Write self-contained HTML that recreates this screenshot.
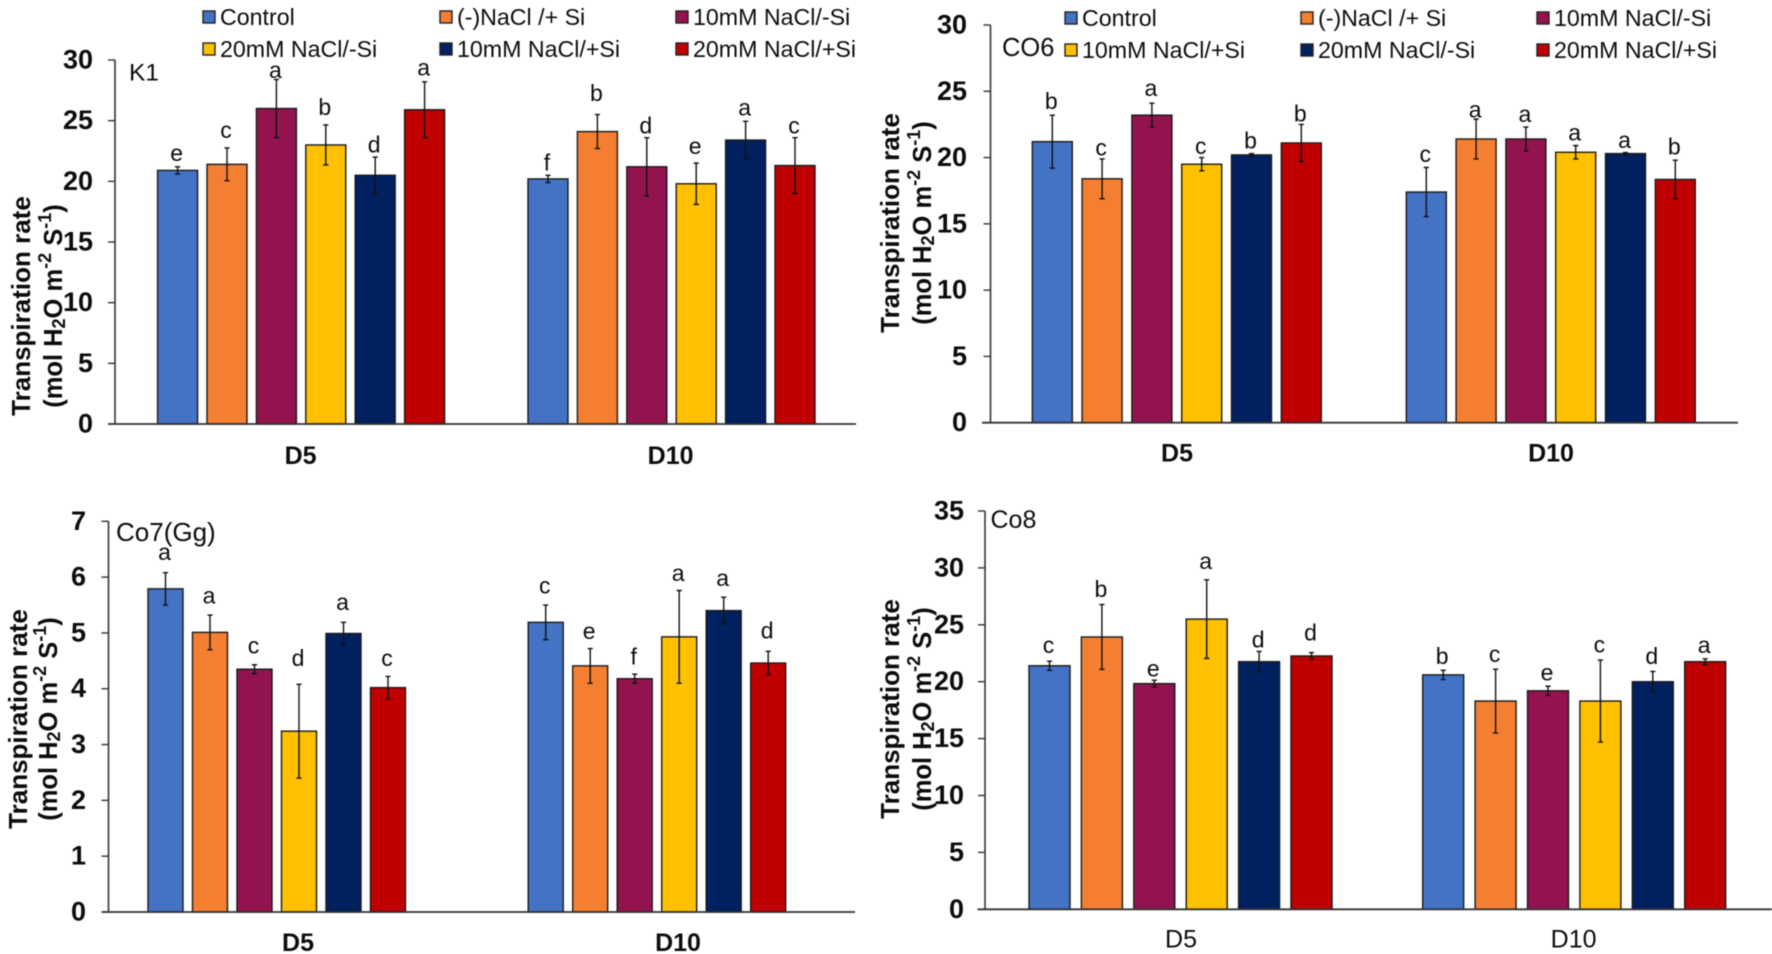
<!DOCTYPE html>
<html lang="en">
<head>
<meta charset="utf-8">
<title>Transpiration rate under NaCl and Si treatments</title>
<style>
html,body{margin:0;padding:0;background:#fff;width:1772px;height:954px;overflow:hidden}
svg{display:block;font-family:"Liberation Sans",Arial,sans-serif;filter:blur(0.4px)}
</style>
</head>
<body>
<svg id="figure" xmlns="http://www.w3.org/2000/svg" width="1772" height="954" viewBox="0 0 1772 954"></svg>
<script>
// Shared categories and colours
const categories = ['D5', 'D10'];
const seriesColors = ['#4472C4', '#F47F30', '#93134F', '#FFC000', '#002060', '#C00000'];

// K1
const k1Ticks = [0, 5, 10, 15, 20, 25, 30];
const k1D5 = [20.9, 21.4, 26.0, 23.0, 20.5, 25.9];
const k1D10 = [20.2, 24.1, 21.2, 19.8, 23.4, 21.3];
const k1D5Err = [0.3, 1.35, 2.4, 1.65, 1.5, 2.3];
const k1D10Err = [0.3, 1.4, 2.4, 1.7, 1.55, 2.3];
const k1D5Letters = ['e', 'c', 'a', 'b', 'd', 'a'];
const k1D10Letters = ['f', 'b', 'd', 'e', 'a', 'c'];
const k1D5Lift = [1.04, 1.4, 0.69, 1.4, 0.96, 1.1];
const k1D10Lift = [0.96, 1.7, 0.93, 1.32, 1.04, 0.93];
const k1Legend = ['Control', '(-)NaCl /+ Si', '10mM NaCl/-Si', '20mM NaCl/-Si', '10mM NaCl/+Si', '20mM NaCl/+Si'];

// CO6
const co6Ticks = [0, 5, 10, 15, 20, 25, 30];
const co6D5 = [21.2, 18.4, 23.2, 19.5, 20.2, 21.1];
const co6D10 = [17.4, 21.4, 21.4, 20.4, 20.3, 18.35];
const co6D5Err = [2.0, 1.5, 0.9, 0.5, 0.1, 1.4];
const co6D10Err = [1.85, 1.5, 0.9, 0.5, 0.08, 1.45];
const co6D5Letters = ['b', 'c', 'a', 'c', 'b', 'b'];
const co6D10Letters = ['c', 'a', 'a', 'a', 'a', 'b'];
const co6D5Lift = [1.0, 0.8, 1.08, 0.8, 0.9, 0.75];
const co6D10Lift = [0.96, 0.65, 0.9, 0.93, 0.88, 0.96];
const co6Legend = ['Control', '(-)NaCl /+ Si', '10mM NaCl/-Si', '10mM NaCl/+Si', '20mM NaCl/-Si', '20mM NaCl/+Si'];

// Co7(Gg)
const co7Ticks = [0, 1, 2, 3, 4, 5, 6, 7];
const co7D5 = [5.79, 5.01, 4.35, 3.24, 4.99, 4.02];
const co7D10 = [5.19, 4.41, 4.18, 4.93, 5.4, 4.46];
const co7D5Err = [0.29, 0.31, 0.08, 0.84, 0.2, 0.2];
const co7D10Err = [0.31, 0.31, 0.08, 0.83, 0.24, 0.21];
const co7D5Letters = ['a', 'a', 'c', 'd', 'a', 'c'];
const co7D10Letters = ['c', 'e', 'f', 'a', 'a', 'd'];
const co7D5Lift = [0.35, 0.33, 0.33, 0.45, 0.35, 0.31];
const co7D10Lift = [0.33, 0.3, 0.3, 0.3, 0.33, 0.36];

// Co8
const co8Ticks = [0, 5, 10, 15, 20, 25, 30, 35];
const co8D5 = [21.4, 23.93, 19.83, 25.5, 21.76, 22.26];
const co8D10 = [20.6, 18.3, 19.2, 18.3, 20.0, 21.76];
const co8D5Err = [0.4, 2.85, 0.3, 3.45, 0.9, 0.3];
const co8D10Err = [0.4, 2.8, 0.4, 3.6, 0.9, 0.25];
const co8D5Letters = ['c', 'b', 'e', 'a', 'd', 'd'];
const co8D10Letters = ['b', 'c', 'e', 'c', 'd', 'a'];
const co8D5Lift = [1.35, 1.26, 0.94, 1.58, 0.97, 1.67];
const co8D10Lift = [1.17, 1.26, 1.11, 1.26, 1.29, 1.11];

const SVG_NS = 'http://www.w3.org/2000/svg';
const figure = document.getElementById('figure');

function make(tag, attrs, parent) {
  const node = document.createElementNS(SVG_NS, tag);
  for (const key in attrs) node.setAttribute(key, attrs[key]);
  parent.appendChild(node);
  return node;
}

function drawPanel(p) {
  const group = make('g', {}, figure);
  
  

  const yMax = p.ticks[p.ticks.length - 1];
  const yScale = v => p.yZero - (v / yMax) * (p.yZero - p.yTop);
  const xScale = (cat, s) => p.groupStart[cat] + s * p.step;

  // bars, error bars, letters
  p.values.forEach((vals, cat) => {
    vals.forEach((v, s) => {
      const left = xScale(cat, s);
      const bar = make('rect', {
        x: left, y: yScale(v), width: p.barW, height: p.yZero - yScale(v),
        fill: seriesColors[s], stroke: '#1a1a1a', 'stroke-width': 1.4
      }, group);
      
      

      const cx = left + p.barW / 2;
      const err = p.errors[cat][s];
      const hi = yScale(v + err);
      const lo = yScale(v - err);
      const errPath = make('path', {
        d: 'M' + cx + ' ' + hi + 'V' + lo + 'M' + (cx - 2.6) + ' ' + hi + 'H' + (cx + 2.6) + 'M' + (cx - 2.6) + ' ' + lo + 'H' + (cx + 2.6),
        stroke: '#111', 'stroke-width': 1.4, fill: 'none'
      }, group);
      
      

      const letter = make('text', {
        x: cx - 1, y: yScale(v + err + p.lifts[cat][s]) - 1,
        'text-anchor': 'middle', 'dominant-baseline': 'central', 'font-size': 23, fill: '#0c0c0c'
      }, group);
      
      
      letter.textContent = p.letters[cat][s];
    });
  });

  // axes
  const yAxis = make('line', {
    x1: p.axisX, x2: p.axisX, y1: p.yTop, y2: p.yZero, stroke: '#333', 'stroke-width': 1.6
  }, group);
  
  

  const xAxis = make('line', {
    x1: p.xFrom, x2: p.xTo, y1: p.yZero, y2: p.yZero, stroke: '#333', 'stroke-width': 1.8
  }, group);
  
  

  p.ticks.forEach(t => {
    const mark = make('line', {
      x1: p.axisX - 7, x2: p.axisX, y1: yScale(t), y2: yScale(t), stroke: '#333', 'stroke-width': 1.4
    }, group);
    
    

    const label = make('text', {
      x: p.tickRight, y: yScale(t) - 0.5, 'text-anchor': 'end', 'dominant-baseline': 'central',
      'font-size': 27, 'font-weight': 'bold', fill: '#0c0c0c'
    }, group);
    
    
    label.textContent = t;
  });

  categories.forEach((c, i) => {
    const label = make('text', {
      x: p.catX[i], y: p.catY + 1, 'text-anchor': 'middle', 'dominant-baseline': 'central',
      'font-size': 25, 'font-weight': p.catBold ? 'bold' : 'normal', fill: '#0c0c0c'
    }, group);
    
    
    label.textContent = c;
  });

  // y axis title
  const line1 = make('text', {
    transform: 'translate(' + p.titleX[0] + ',' + p.titleY + ') rotate(-90)',
    'text-anchor': 'middle', 'dominant-baseline': 'central',
    'font-size': 26, 'font-weight': 'bold', fill: '#0c0c0c'
  }, group);
  
  
  line1.textContent = 'Transpiration rate';

  const line2 = make('text', {
    transform: 'translate(' + p.titleX[1] + ',' + p.titleY + ') rotate(-90)',
    'text-anchor': 'middle', 'dominant-baseline': 'central',
    'font-size': 25.5, 'font-weight': 'bold', fill: '#0c0c0c'
  }, group);
  
  
  line2.innerHTML = '(mol H<tspan dy="5" font-size="18">2</tspan><tspan dy="-5">O m</tspan><tspan dy="-9" font-size="18">-2</tspan><tspan dy="9"> S</tspan><tspan dy="-9" font-size="18">-1</tspan><tspan dy="9">)</tspan>';

  // panel name
  const name = make('text', {
    x: p.nameX, y: p.nameY, 'dominant-baseline': 'central', 'font-size': p.nameSize, fill: '#0c0c0c'
  }, group);
  
  
  name.textContent = p.name;

  // legend
  if (p.legend) {
    p.legend.forEach((text, i) => {
      const col = i % 3;
      const row = Math.floor(i / 3);
      const y = p.legendRows[row];
      const swatch = make('rect', {
        x: p.legendSwatchX[col] + 1, y: y - 6, width: 12, height: 12,
        fill: p.legendColors[i], stroke: '#222', 'stroke-width': 1.4
      }, group);
      
      

      const label = make('text', {
        x: p.legendSwatchX[col] + 18, y: y, 'dominant-baseline': 'central', 'font-size': 23.2, fill: '#0c0c0c'
      }, group);
      
      
      label.textContent = text;
    });
  }
}

drawPanel({
  slug: 'k1', name: 'K1', nameX: 129, nameY: 73, nameSize: 24.5, ticks: k1Ticks,
  values: [k1D5, k1D10], errors: [k1D5Err, k1D10Err], letters: [k1D5Letters, k1D10Letters], lifts: [k1D5Lift, k1D10Lift],
  axisX: 115, yTop: 60, yZero: 424, xFrom: 108, xTo: 856,
  groupStart: [157.6, 528], step: 49.4, barW: 40,
  tickRight: 93, catX: [300.6, 670.6], catY: 455, catBold: true,
  titleX: [21, 54], titleY: 306,
  legend: k1Legend, legendColors: seriesColors, legendRows: [17, 49], legendSwatchX: [202, 439, 675]
});

drawPanel({
  slug: 'co6', name: 'CO6', nameX: 1002, nameY: 48, nameSize: 25.5, ticks: co6Ticks,
  values: [co6D5, co6D10], errors: [co6D5Err, co6D10Err], letters: [co6D5Letters, co6D10Letters], lifts: [co6D5Lift, co6D10Lift],
  axisX: 990.5, yTop: 25, yZero: 422.7, xFrom: 982, xTo: 1738,
  groupStart: [1032.3, 1406.3], step: 49.8, barW: 40,
  tickRight: 967, catX: [1177, 1551], catY: 452.7, catBold: true,
  titleX: [890, 923], titleY: 223,
  legend: co6Legend, legendColors: seriesColors, legendRows: [18, 50], legendSwatchX: [1064, 1300, 1536]
});

drawPanel({
  slug: 'co7', name: 'Co7(Gg)', nameX: 116, nameY: 532, nameSize: 26, ticks: co7Ticks,
  values: [co7D5, co7D10], errors: [co7D5Err, co7D10Err], letters: [co7D5Letters, co7D10Letters], lifts: [co7D5Lift, co7D10Lift],
  axisX: 108.5, yTop: 521.3, yZero: 912, xFrom: 102, xTo: 855,
  groupStart: [148, 528.2], step: 44.5, barW: 35,
  tickRight: 86, catX: [298, 678], catY: 942, catBold: true,
  titleX: [18, 49], titleY: 719
});

drawPanel({
  slug: 'co8', name: 'Co8', nameX: 990.5, nameY: 520, nameSize: 25, ticks: co8Ticks,
  values: [co8D5, co8D10], errors: [co8D5Err, co8D10Err], letters: [co8D5Letters, co8D10Letters], lifts: [co8D5Lift, co8D10Lift],
  axisX: 985, yTop: 511, yZero: 909.3, xFrom: 977.5, xTo: 1772,
  groupStart: [1029, 1422.7], step: 52.4, barW: 41,
  tickRight: 964, catX: [1181, 1573.6], catY: 938.7, catBold: false,
  titleX: [890, 923], titleY: 709
});
</script>
</body>
</html>
